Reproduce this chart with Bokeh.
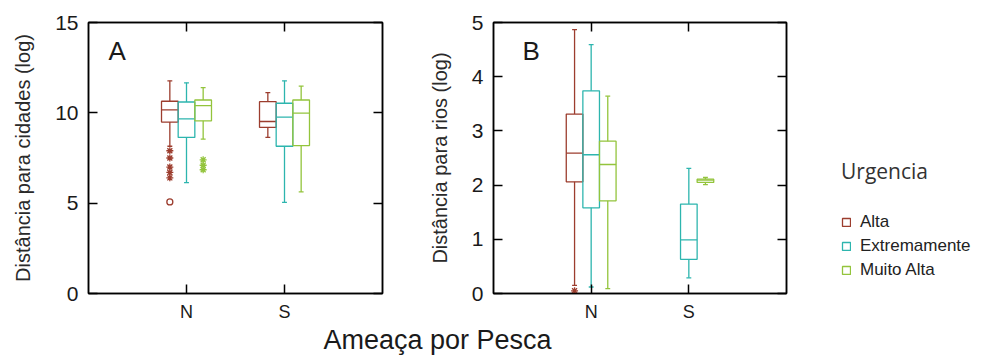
from bokeh.plotting import figure
from bokeh.models import (LinearAxis, FixedTicker, Range1d, Label, Legend, LegendItem,
                          ColumnDataSource)
from bokeh.layouts import row, column
from bokeh.embed import file_html
from bokeh.resources import INLINE

# ---------------- data ----------------
categories = ["N", "S"]
groups = ["Alta", "Extremamente", "Muito Alta"]
colors = ["#9c3d2e", "#2db5ae", "#93c43c"]

# Panel A: Distância para cidades (log)  rows = groups, cols = categories
a_lo  = [[8.15, 8.64], [6.14, 5.04], [8.55, 5.62]]
a_q1  = [[9.49, 9.19], [8.64, 8.15], [9.56, 8.19]]
a_med = [[10.16, 9.52], [9.67, 9.76], [10.40, 9.98]]
a_q3  = [[10.64, 10.62], [10.60, 10.53], [10.71, 10.71]]
a_hi  = [[11.77, 11.12], [11.66, 11.77], [11.39, 11.48]]
a_star_group = ["Alta", "Alta", "Alta", "Alta", "Alta", "Muito Alta", "Muito Alta", "Muito Alta"]
a_star_cat   = ["N", "N", "N", "N", "N", "N", "N", "N"]
a_star_val   = [7.9, 7.5, 7.0, 6.7, 6.4, 7.4, 7.1, 6.85]
a_circ_group = ["Alta"]
a_circ_cat   = ["N"]
a_circ_val   = [5.07]

# Panel B: Distância para rios (log)
b_lo  = [[0.15, None], [0.12, 0.29], [0.09, 2.01]]
b_q1  = [[2.06, None], [1.58, 0.63], [1.71, 2.05]]
b_med = [[2.59, None], [2.56, 0.99], [2.38, 2.09]]
b_q3  = [[3.31, None], [3.74, 1.65], [2.81, 2.11]]
b_hi  = [[4.87, None], [4.59, 2.31], [3.64, 2.14]]
b_star_group = ["Alta"]
b_star_cat   = ["N"]
b_star_val   = [0.05]
b_circ_group = []
b_circ_cat   = []
b_circ_val   = []

a_yticks = [0, 5, 10, 15]
b_yticks = [0, 1, 2, 3, 4, 5]

# ---------------- styling constants ----------------
OFFSETS = [-0.17, 0.0, 0.17]
BOX_W = 0.17
CAP_W = 0.05
LW = 1.3
FONT = "Liberation Sans"
TEXT_COL = "#1a1a1a"
TICK_LEN = 9
PANEL_H = 324
NAN = float("nan")


def xpos(cat, gi):
    return categories.index(cat) + 1 + OFFSETS[gi]


def draw_boxes(p, lo, q1, med, q3, hi, sg, sc, sv, cg, cc, cv):
    for gi, g in enumerate(groups):
        xs, l, a, m, b, h = [], [], [], [], [], []
        for ci, c in enumerate(categories):
            if med[gi][ci] is None:
                continue
            xs.append(xpos(c, gi))
            l.append(lo[gi][ci]); a.append(q1[gi][ci]); m.append(med[gi][ci])
            b.append(q3[gi][ci]); h.append(hi[gi][ci])
        src = ColumnDataSource(dict(
            x=xs, lo=l, q1=a, med=m, q3=b, hi=h,
            bl=[x - BOX_W / 2 for x in xs], br=[x + BOX_W / 2 for x in xs],
            cl=[x - CAP_W / 2 for x in xs], cr=[x + CAP_W / 2 for x in xs]))
        col = colors[gi]
        p.segment(x0="x", y0="q3", x1="x", y1="hi", source=src, line_color=col, line_width=LW)
        p.segment(x0="x", y0="q1", x1="x", y1="lo", source=src, line_color=col, line_width=LW)
        p.segment(x0="cl", y0="hi", x1="cr", y1="hi", source=src, line_color=col, line_width=LW)
        p.segment(x0="cl", y0="lo", x1="cr", y1="lo", source=src, line_color=col, line_width=LW)
        p.vbar(x="x", width=BOX_W, top="q3", bottom="q1", source=src,
               fill_color="white", fill_alpha=0.0, line_color=col, line_width=LW)
        p.segment(x0="bl", y0="med", x1="br", y1="med", source=src, line_color=col, line_width=LW)

        sx = [xpos(c, gi) for gg, c in zip(sg, sc) if gg == g]
        sy = [v for gg, v in zip(sg, sv) if gg == g]
        if sx:
            p.scatter(sx, sy, marker="asterisk", size=7, line_color=col, line_width=1.3)
        cx = [xpos(c, gi) for gg, c in zip(cg, cc) if gg == g]
        cy = [v for gg, v in zip(cg, cv) if gg == g]
        if cx:
            p.scatter(cx, cy, marker="circle", size=6, fill_alpha=0, line_color=col, line_width=1.3)


def style(p, yticks, ylabel):
    p.grid.visible = False
    p.outline_line_color = "black"
    p.outline_line_width = 1.5
    p.background_fill_color = "white"
    p.border_fill_color = "white"

    xa = p.xaxis[0]
    xa.ticker = FixedTicker(ticks=[i + 1 for i in range(len(categories))])
    xa.major_label_overrides = {i + 1: c for i, c in enumerate(categories)}
    xa.major_label_text_font = FONT
    xa.major_label_text_font_size = "18px"
    xa.major_label_standoff = 8

    ya = p.yaxis[0]
    ya.ticker = FixedTicker(ticks=yticks)
    ya.major_label_text_font = FONT
    ya.major_label_text_font_size = "21px"
    ya.major_label_standoff = 10
    ya.axis_label = ylabel
    ya.axis_label_text_font = FONT
    ya.axis_label_text_font_size = "20px"
    ya.axis_label_text_font_style = "normal"
    ya.axis_label_text_color = "#2a2a2a"
    ya.axis_label_standoff = 18

    right = LinearAxis(ticker=FixedTicker(ticks=yticks))
    top = LinearAxis(ticker=FixedTicker(ticks=[i + 1 for i in range(len(categories))]))
    p.add_layout(right, "right")
    p.add_layout(top, "above")
    for ax in (right, top):
        ax.major_label_text_font_size = "0px"
        ax.major_label_standoff = 0

    for ax in (xa, ya, right, top):
        ax.axis_line_color = "black"
        ax.axis_line_width = 1.5
        ax.major_tick_line_color = "black"
        ax.major_tick_line_width = 1.5
        ax.major_tick_in = TICK_LEN
        ax.major_tick_out = 0
        ax.minor_tick_line_color = None
        ax.major_label_text_color = TEXT_COL if ax in (xa, ya) else None


# ---------------- panel A ----------------
pA = figure(width=420, height=PANEL_H, x_range=Range1d(0, 3), y_range=Range1d(0, 15),
            toolbar_location=None, output_backend="svg",
            min_border_left=88, min_border_right=38, min_border_top=22, min_border_bottom=29)
draw_boxes(pA, a_lo, a_q1, a_med, a_q3, a_hi,
           a_star_group, a_star_cat, a_star_val, a_circ_group, a_circ_cat, a_circ_val)
style(pA, a_yticks, "Distância para cidades (log)")
pA.add_layout(Label(x=20, y=228, x_units="screen", y_units="screen", text="A",
                    text_font=FONT, text_font_size="26px", text_color=TEXT_COL))

# ---------------- panel B ----------------
pB = figure(width=380, height=PANEL_H, x_range=Range1d(0, 3), y_range=Range1d(0, 5),
            toolbar_location=None, output_backend="svg",
            min_border_left=73, min_border_right=14, min_border_top=22, min_border_bottom=29)
draw_boxes(pB, b_lo, b_q1, b_med, b_q3, b_hi,
           b_star_group, b_star_cat, b_star_val, b_circ_group, b_circ_cat, b_circ_val)
style(pB, b_yticks, "Distância para rios (log)")
pB.add_layout(Label(x=29, y=228, x_units="screen", y_units="screen", text="B",
                    text_font=FONT, text_font_size="26px", text_color=TEXT_COL))

# ---------------- legend panel ----------------
pL = figure(width=183, height=PANEL_H, x_range=Range1d(0, 1), y_range=Range1d(0, 1),
            toolbar_location=None, output_backend="svg", x_axis_type=None, y_axis_type=None,
            min_border_left=0, min_border_right=0, min_border_top=0, min_border_bottom=0)
pL.outline_line_color = None
pL.grid.visible = False
keys = [pL.vbar(x=[NAN], width=0.1, top=[NAN], bottom=[NAN], fill_color="white",
                fill_alpha=0.0, line_color=c, line_width=LW) for c in colors]
legend = Legend(items=[LegendItem(label=g, renderers=[r]) for g, r in zip(groups, keys)],
                title="Urgencia", location=(41, 11))
legend.title_text_font = "Open Sans"
legend.title_text_font_size = "21px"
legend.title_text_font_style = "normal"
legend.title_text_color = "#333333"
legend.title_standoff = 25
legend.label_text_font = FONT
legend.label_text_font_size = "17px"
legend.label_text_color = "#222222"
legend.glyph_width = 10
legend.glyph_height = 10
legend.label_standoff = 9
legend.label_height = 24
legend.spacing = 0
legend.padding = 0
legend.margin = 0
legend.border_line_color = None
legend.background_fill_alpha = 0
pL.add_layout(legend)

# ---------------- shared x label ----------------
foot = figure(width=983, height=36, x_range=Range1d(0, 1), y_range=Range1d(0, 1),
              toolbar_location=None, output_backend="svg", x_axis_type=None, y_axis_type=None,
              min_border_left=0, min_border_right=0, min_border_top=0, min_border_bottom=0)
foot.outline_line_color = None
foot.grid.visible = False
foot.add_layout(Label(x=437, y=6, x_units="screen", y_units="screen", text="Ameaça por Pesca",
                      text_align="center", text_font=FONT, text_font_size="27px",
                      text_color=TEXT_COL))

layout = column(row(pA, pB, pL), foot)
open("out.html", "w").write(file_html(layout, INLINE))
